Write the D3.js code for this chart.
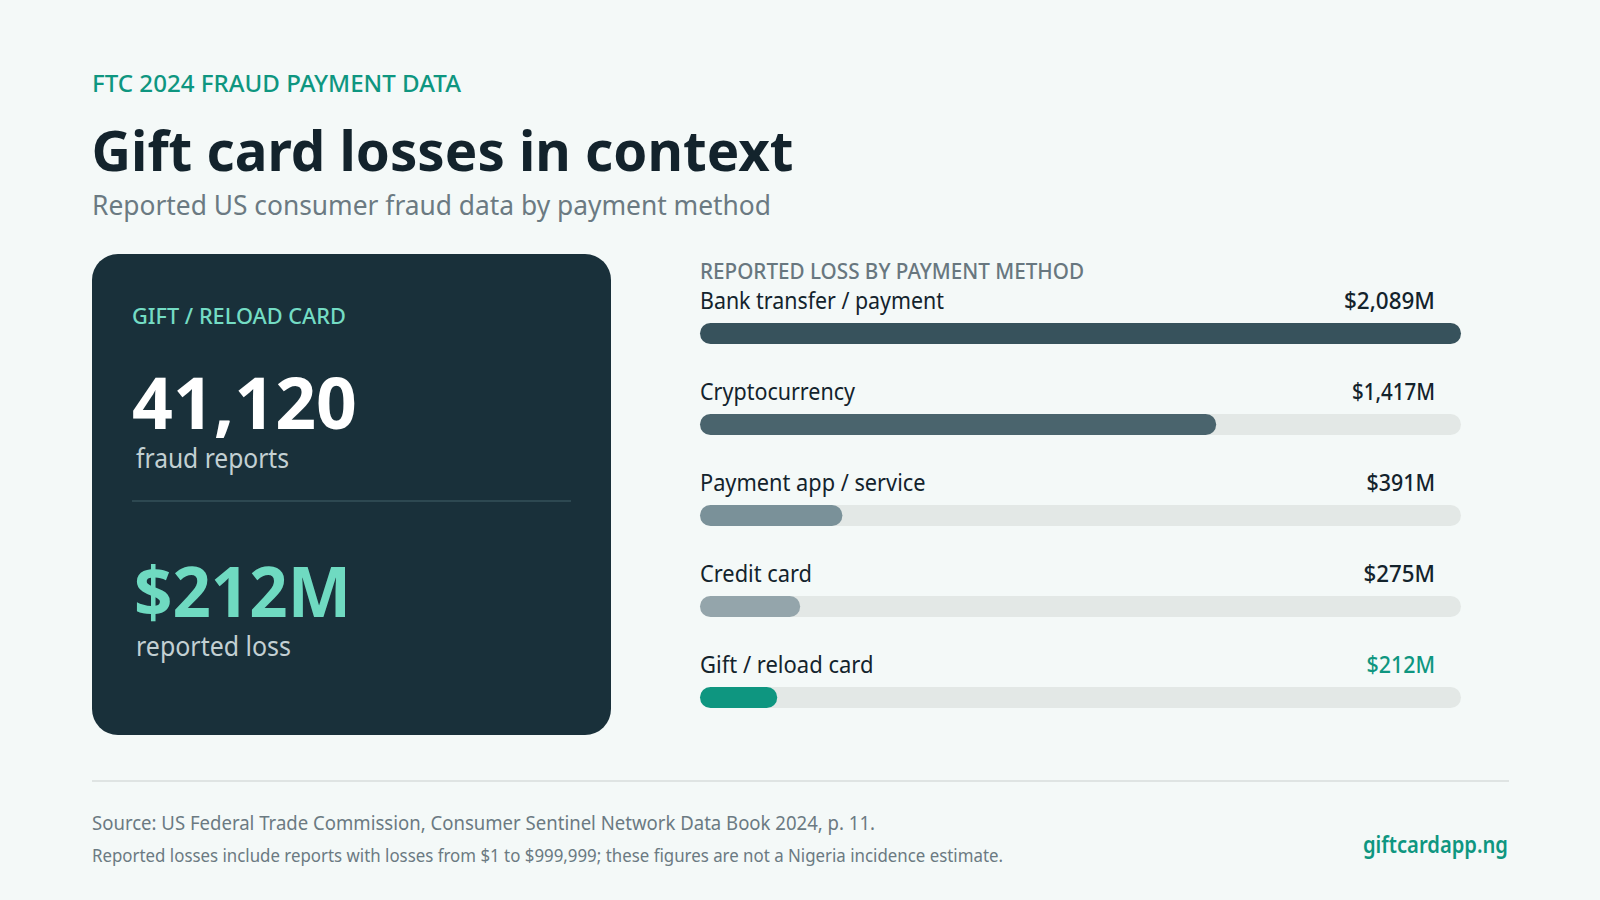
<!DOCTYPE html>
<html>
<head>
<meta charset="utf-8">
<script src="https://cdn.jsdelivr.net/npm/d3@7"></script>
<style>
  html, body { margin: 0; padding: 0; background: #f4f9f8; }
  text { font-family: "Noto Sans", sans-serif; }
</style>
</head>
<body>
<div id="chart"></div>
<script>
var methods = ["Bank transfer / payment", "Cryptocurrency", "Payment app / service", "Credit card", "Gift / reload card"];
var losses = [2089, 1417, 391, 275, 212];
var statValues = ["41,120", "$212M"];
var statLabels = ["fraud reports", "reported loss"];

var svg = d3.select("#chart").append("svg")
    .attr("width", 1600)
    .attr("height", 900)
    .attr("viewBox", "0 0 1600 900");

svg.append("rect").attr("width", 1600).attr("height", 900).attr("fill", "#f4f9f8");

// bar and value colours, by row
var barColours = ["#37525c", "#4a646d", "#7a9199", "#94a5ab", "#0e9680"];
var valueColours = ["#13232c", "#13232c", "#13232c", "#13232c", "#0e9680"];

// Noto Sans runs wider than the reference's face, so each text gets squeezed to its measured width
var labelWidths = [244, 155, 225.5, 112, 173.5];
var valueWidths = [91, 83, 68.5, 71.5, 68.5];

function label(parent, x, y, str, size, weight, fill, width, anchor) {
    return parent.append("text")
        .attr("x", x).attr("y", y)
        .attr("font-size", size)
        .attr("font-weight", weight)
        .attr("fill", fill)
        .attr("text-anchor", anchor || "start")
        .attr("textLength", width)
        .attr("lengthAdjust", "spacingAndGlyphs")
        .text(str);
}

// heading
label(svg, 92, 92, "FTC 2024 FRAUD PAYMENT DATA", 24, 500, "#0e9680", 369);
label(svg, 91.5, 171, "Gift card losses in context", 56, 700, "#13232c", 702);
label(svg, 92, 215, "Reported US consumer fraud data by payment method", 27.5, 400, "#6b7a82", 679);

// stat card
svg.append("rect")
    .attr("x", 92).attr("y", 254)
    .attr("width", 519).attr("height", 481)
    .attr("rx", 26)
    .attr("fill", "#19303a");

label(svg, 132, 323.5, "GIFT / RELOAD CARD", 22, 500, "#74dcc4", 214);
label(svg, 132, 428.5, statValues[0], 72, 700, "#ffffff", 225);
label(svg, 136, 468, statLabels[0], 27, 400, "#c3d0d3", 153);
svg.append("line")
    .attr("x1", 132).attr("x2", 571)
    .attr("y1", 501).attr("y2", 501)
    .attr("stroke", "#34505a").attr("stroke-width", 1.5);
label(svg, 134, 616.5, statValues[1], 70, 700, "#6fdac1", 217);
label(svg, 136, 656, statLabels[1], 27, 400, "#c3d0d3", 155);

// bars
var x = d3.scaleLinear()
    .domain([0, d3.max(losses)])
    .range([0, 761]);

var y = d3.scaleBand()
    .domain(methods)
    .range([271, 271 + 91 * methods.length]);

label(svg, 700, 279, "REPORTED LOSS BY PAYMENT METHOD", 21, 500, "#68777f", 384);

var rows = svg.append("g").attr("transform", "translate(700,0)")
    .selectAll(".row")
    .data(methods)
    .enter().append("g")
    .attr("class", "row")
    .attr("transform", function(d) { return "translate(0," + y(d) + ")"; });

rows.append("rect")
    .attr("y", 52).attr("height", 21)
    .attr("width", x.range()[1])
    .attr("rx", 10.5)
    .attr("fill", "#e3e8e6");

rows.append("rect")
    .attr("y", 52).attr("height", 21)
    .attr("width", function(d, i) { return x(losses[i]); })
    .attr("rx", 10.5)
    .attr("fill", function(d, i) { return barColours[i]; });

rows.each(function(d, i) {
    var row = d3.select(this);
    label(row, 0, 38, d, 23, 400, "#13232c", labelWidths[i]);
    label(row, 735, 38, "$" + d3.format(",")(losses[i]) + "M", 23, 500, valueColours[i], valueWidths[i], "end");
});

// footer
svg.append("line")
    .attr("x1", 92).attr("x2", 1509)
    .attr("y1", 781).attr("y2", 781)
    .attr("stroke", "#dfe4e3").attr("stroke-width", 2);
label(svg, 92, 830, "Source: US Federal Trade Commission, Consumer Sentinel Network Data Book 2024, p. 11.", 20, 400, "#6b7a82", 783);
label(svg, 92, 862, "Reported losses include reports with losses from $1 to $999,999; these figures are not a Nigeria incidence estimate.", 18.5, 400, "#6b7a82", 911);
label(svg, 1508, 853, "giftcardapp.ng", 23, 600, "#0e9680", 145, "end");
</script>
</body>
</html>
